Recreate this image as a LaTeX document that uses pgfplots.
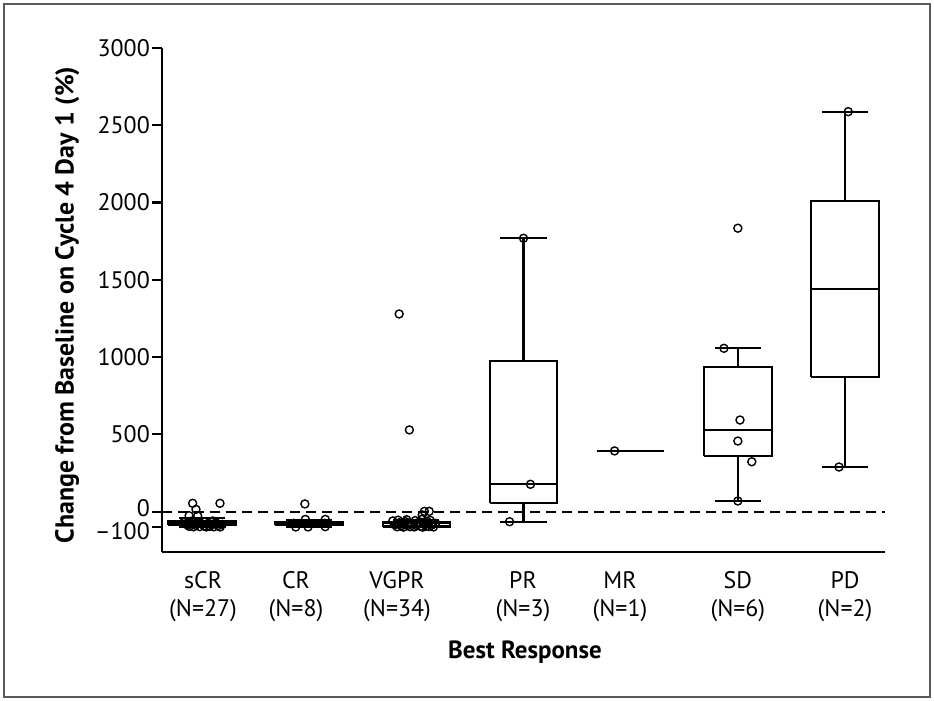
\documentclass[border=0pt]{standalone}
\usepackage{pgfplots}
\pgfplotsset{compat=1.18}
\usepackage{fontspec}
\setmainfont{PT Sans}
\begin{document}
\fontsize{23}{29}\selectfont
\begin{tikzpicture}
\useasboundingbox (0,0) rectangle (934bp,701bp);
\draw[line width=2.8bp, black!65] (4bp,4bp) rectangle (930bp,697bp);
\begin{axis}[
  at={(162bp,149.3bp)}, anchor=south west,
  scale only axis, width=723bp, height=503.7bp,
  xmin=0.627, xmax=7.373, ymin=-259, ymax=3000,
  axis x line=bottom, axis y line=left,
  axis line style={line width=2.2bp, -},
  clip=false,
  ytick={-100,0,500,1000,1500,2000,2500,3000},
  yticklabels={\raisebox{-4bp}[\height][\depth]{–100},\raisebox{4bp}[\height][\depth]{0},500,1000,1500,2000,2500,3000},
  ytick style={line width=2.2bp, black},
  major tick length=10bp, tick align=outside,
  yticklabel style={font=\fontsize{24}{26}\selectfont, inner xsep=2bp, inner ysep=0pt},
  xtick={1.01,1.877,2.82,3.995,4.9,6.0,7.0},
  xticklabels={{sCR\\(N=27)},{CR\\(N=8)},{VGPR\\(N=34)},{PR\\(N=3)},{MR\\(N=1)},{SD\\(N=6)},{PD\\(N=2)}},
  xticklabel style={align=center, font=\fontsize{24}{28}\selectfont, yshift=-2bp},
  xtick style={draw=none},
  xlabel={\bfseries Best Response},
  xlabel style={at={(axis description cs:0.502,-0.199)}, anchor=center, font=\fontsize{25}{28}\selectfont},
  ylabel={\bfseries Change from Baseline on Cycle 4 Day 1 (\%)},
  ylabel style={at={(axis description cs:-0.131,0.49)}, anchor=center, font=\fontsize{26}{28}\selectfont},
  unbounded coords=jump,
]
% zero reference line
\addplot[black, line width=2bp, dash pattern=on 10bp off 6bp] coordinates {(0.627,0) (7.373,0)};

% boxes: box outline, median, upper whisker + cap, lower whisker + cap
\pgfplotsset{bxs/.style={black, line width=2.1bp, line join=miter, mark=none}}
% sCR: LW -100, Q1 -84, Med -72, Q3 -58, UW -40
\addplot[bxs] coordinates {(0.685,-84) (1.315,-84) (1.315,-58) (0.685,-58) (0.685,-84) (1,nan)
 (0.685,-72) (1.315,-72) (1,nan) (1,-58) (1,-40) (1,nan) (0.785,-40) (1.215,-40) (1,nan)
 (1,-84) (1,-100) (1,nan) (0.785,-100) (1.215,-100)};
% CR: -100, -88, -75, -64, -55
\addplot[bxs] coordinates {(1.685,-88) (2.315,-88) (2.315,-64) (1.685,-64) (1.685,-88) (2,nan)
 (1.685,-75) (2.315,-75) (2,nan) (2,-64) (2,-55) (2,nan) (1.785,-55) (2.215,-55) (2,nan)
 (2,-88) (2,-100) (2,nan) (1.785,-100) (2.215,-100)};
% VGPR: -100, -97, -90, -70, -55
\addplot[bxs] coordinates {(2.685,-97) (3.315,-97) (3.315,-70) (2.685,-70) (2.685,-97) (3,nan)
 (2.685,-90) (3.315,-90) (3,nan) (3,-70) (3,-55) (3,nan) (2.785,-55) (3.215,-55) (3,nan)
 (3,-97) (3,-100) (3,nan) (2.785,-100) (3.215,-100)};
% PR: -65, 54, 177, 975, 1769
\addplot[bxs] coordinates {(3.685,54) (4.315,54) (4.315,975) (3.685,975) (3.685,54) (4,nan)
 (3.685,177) (4.315,177) (4,nan) (4,975) (4,1769) (4,nan) (3.785,1769) (4.215,1769) (4,nan)
 (4,54) (4,-65) (4,nan) (3.785,-65) (4.215,-65)};
% MR: single value 393
\addplot[bxs] coordinates {(4.685,393) (5.315,393)};
% SD: 69, 360, 529, 934, 1057
\addplot[bxs] coordinates {(5.685,360) (6.315,360) (6.315,934) (5.685,934) (5.685,360) (6,nan)
 (5.685,529) (6.315,529) (6,nan) (6,934) (6,1057) (6,nan) (5.785,1057) (6.215,1057) (6,nan)
 (6,360) (6,69) (6,nan) (5.785,69) (6.215,69)};
% PD: 289, 870, 1439, 2012, 2588
\addplot[bxs] coordinates {(6.685,870) (7.315,870) (7.315,2012) (6.685,2012) (6.685,870) (7,nan)
 (6.685,1439) (7.315,1439) (7,nan) (7,2012) (7,2588) (7,nan) (6.785,2588) (7.215,2588) (7,nan)
 (7,870) (7,289) (7,nan) (6.785,289) (7.215,289)};

% individual patients
\pgfplotsset{pts/.style={only marks, mark=o, mark size=4bp, mark options={line width=1.4bp, black, solid}}}
% sCR
\addplot[pts] coordinates {
(0.913,54) (1.168,54) (0.944,15) (0.88,-26) (0.96,-28)
(0.83,-70) (0.86,-85) (0.88,-95) (0.90,-75) (0.92,-98) (0.94,-88) (0.96,-70)
(0.98,-97) (1.00,-80) (1.02,-92) (1.04,-99) (1.06,-75) (1.07,-95) (1.09,-85)
(1.11,-98) (1.13,-72) (1.15,-90) (1.17,-99) (1.19,-82) (0.90,-62) (1.03,-65) (1.10,-60)};
% CR
\addplot[pts] coordinates {
(1.96,50) (1.855,-75) (1.965,-50) (2.15,-50) (2.145,-75) (1.875,-99) (1.99,-99) (2.15,-97)};
% VGPR
\addplot[pts] coordinates {
(2.84,1279) (2.935,529) (3.075,2) (3.12,2) (3.055,-21)
(2.78,-60) (2.80,-85) (2.82,-98) (2.84,-72) (2.86,-92) (2.88,-100) (2.90,-65)
(2.92,-88) (2.94,-97) (2.96,-78) (2.98,-99) (3.00,-90) (3.02,-70) (3.04,-95)
(3.06,-100) (3.08,-83) (3.10,-62) (3.12,-96) (3.14,-88) (3.16,-99) (3.18,-75)
(2.83,-55) (2.91,-52) (2.99,-58) (3.05,-50) (3.13,-56) (2.87,-80) (3.01,-82) (3.09,-94)};
% PR
\addplot[pts] coordinates {(4.0,1769) (4.065,177) (3.87,-65)};
% MR
\addplot[pts] coordinates {(4.85,393)};
% SD
\addplot[pts] coordinates {(5.87,1057) (6.02,593) (6.0,457) (6.13,323) (6.0,69) (6.0,1834)};
% PD
\addplot[pts] coordinates {(7.03,2588) (6.944,289)};
\end{axis}
\end{tikzpicture}
\end{document}
